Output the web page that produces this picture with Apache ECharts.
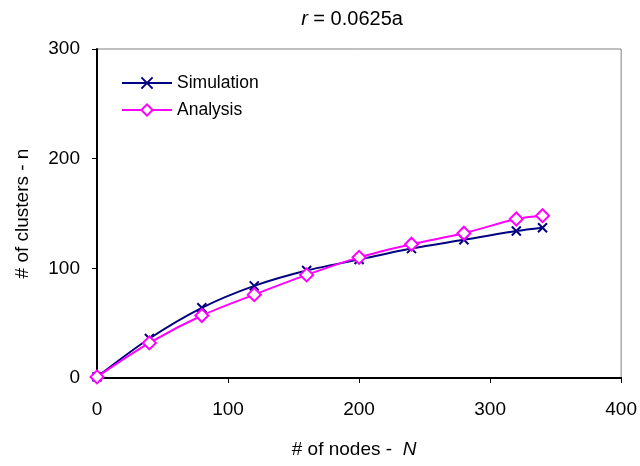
<!DOCTYPE html>
<html><head><meta charset="utf-8">
<script src="https://cdn.jsdelivr.net/npm/echarts@6/dist/echarts.min.js"></script>
<style>html,body{margin:0;padding:0;background:#fff}#c{width:640px;height:466px}</style>
</head><body><div id="c"></div>
<script>
const nodes = [0, 40, 80, 120, 160, 200, 240, 280, 320, 340];
const simulation = [1, 36, 64, 84, 98, 108, 118, 126, 134, 137];
const analysis = [1, 32, 57, 76, 94, 110, 122, 132, 145, 148];
const seriesNames = ['Simulation', 'Analysis'];

const chart = echarts.init(document.getElementById('c'));
const font = 'Liberation Sans, Arial, sans-serif';
const xMark = 'path://M0,0L10,10M10,0L0,10';
chart.setOption({
  animation: false,
  title: {
    text: '{i|r} = 0.0625a', left: 347, top: 4, textAlign: 'center',
    textStyle: { fontFamily: font, fontSize: 20, fontWeight: 'normal', color: '#000',
      rich: { i: { fontFamily: font, fontSize: 20, fontStyle: 'italic', color: '#000' } } }
  },
  legend: {
    left: 116, top: 69, orient: 'vertical', itemWidth: 50, itemHeight: 14, itemGap: 9,
    textStyle: { fontFamily: font, fontSize: 17.5, color: '#000' },
    data: seriesNames
  },
  grid: { left: 97, right: 18, top: 49, bottom: 88, show: true, borderColor: '#808080', borderWidth: 1 },
  xAxis: {
    type: 'value', min: 0, max: 400, interval: 100,
    name: '# of nodes -  {i|N}', nameLocation: 'middle', nameGap: 62,
    nameTextStyle: { fontFamily: font, fontSize: 19, color: '#000', padding: [0, 10, 0, 0],
      rich: { i: { fontFamily: font, fontSize: 19, fontStyle: 'italic', color: '#000' } } },
    axisLine: { lineStyle: { color: '#000', width: 2 } },
    axisTick: { show: true, length: 5, lineStyle: { color: '#000' } },
    axisLabel: { fontFamily: font, fontSize: 19, color: '#000', margin: 22 },
    splitLine: { show: false }
  },
  yAxis: {
    type: 'value', min: 0, max: 300, interval: 100,
    name: '# of clusters - n', nameLocation: 'middle', nameGap: 65,
    nameTextStyle: { fontFamily: font, fontSize: 19, color: '#000' },
    axisLine: { show: true, lineStyle: { color: '#000', width: 2 } },
    axisTick: { show: true, length: 5, lineStyle: { color: '#000' } },
    axisLabel: { fontFamily: font, fontSize: 19, color: '#000', margin: 17 },
    splitLine: { show: false }
  },
  series: [
    {
      name: seriesNames[0], type: 'line', smooth: 0.3,
      data: nodes.map((n, i) => [n, simulation[i]]),
      symbol: xMark, symbolSize: 9,
      lineStyle: { color: '#000080', width: 2 },
      itemStyle: { color: '#000080', borderColor: '#000080', borderWidth: 2 }
    },
    {
      name: seriesNames[1], type: 'line', smooth: 0.3,
      data: nodes.map((n, i) => [n, analysis[i]]),
      symbol: 'diamond', symbolSize: 13, z: 3,
      lineStyle: { color: '#FF00FF', width: 2 },
      itemStyle: { color: '#fff', borderColor: '#FF00FF', borderWidth: 2 }
    }
  ]
});
</script></body></html>
